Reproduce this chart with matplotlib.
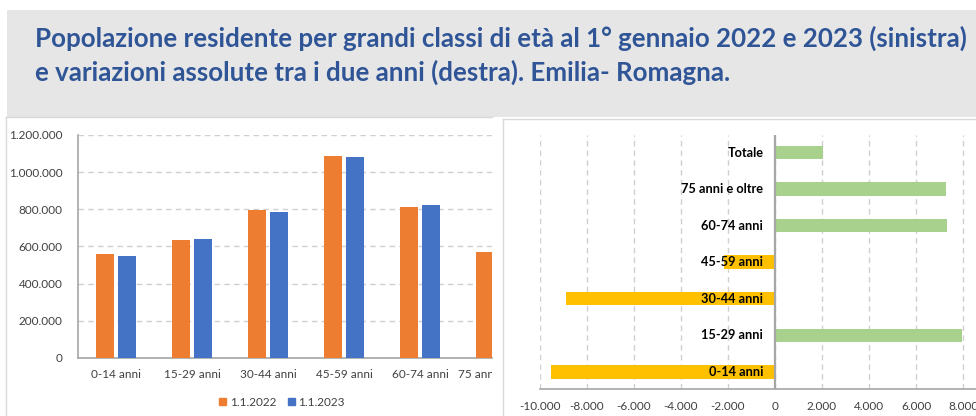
import matplotlib
matplotlib.use("Agg")
import matplotlib.pyplot as plt
from matplotlib.patches import Rectangle, Patch
from matplotlib.lines import Line2D
from matplotlib.ticker import FuncFormatter
from matplotlib.transforms import Bbox, TransformedBbox

plt.rcParams['font.family'] = ['Lato', 'DejaVu Sans']

# popolazione per classe di età
classi = ["0-14 anni", "15-29 anni", "30-44 anni", "45-59 anni", "60-74 anni", "75 anni e oltre"]
pop_2022 = [559000, 634000, 795000, 1087000, 815000, 571000]
pop_2023 = [547000, 641000, 786000, 1082000, 822000, 578000]
anni_legenda = ["1.1.2022", "1.1.2023"]

# variazioni assolute 2022-2023
var_labels = ["0-14 anni", "15-29 anni", "30-44 anni", "45-59 anni", "60-74 anni", "75 anni e oltre", "Totale"]
variazioni = [-9520, 7960, -8910, -2180, 7330, 7260, 2030]

titolo = ["Popolazione residente per grandi classi di età al 1° gennaio 2022 e 2023 (sinistra)",
          "e variazioni assolute tra i due anni (destra). Emilia- Romagna."]

ORANGE = "#ED7D31"
BLUE = "#4472C4"
GREEN = "#A9D18E"
YELLOW = "#FFC000"
GRID = "#D0D0D0"
AXIS = "#A6A6A6"
TICK = "#404040"

W, H = 976, 416
fig = plt.figure(figsize=(W / 100, H / 100), dpi=100)


def px(x0, y0, x1, y1):
    # pixel box (top-left origin) -> figure fraction rect
    return [x0 / W, 1 - y1 / H, (x1 - x0) / W, (y1 - y0) / H]


def it_fmt(v, _):
    return format(int(round(v)), ",").replace(",", ".")


# header band
fig.patches.append(Rectangle((7 / W, 1 - 117 / H), (W - 7) / W, 107 / H,
                             transform=fig.transFigure, facecolor="#E7E6E6",
                             edgecolor="none", zorder=0))
for riga, base in zip(titolo, [47, 81]):
    fig.text(35 / W, 1 - base / H, riga, ha="left", va="baseline", fontsize=18.6,
             fontweight="bold", color="#2F5597")

# panel borders
for xs, ys in [((6, 6), (117, 416)), ((6, 492), (117, 117)),
               ((503.5, 503.5), (119, 416)), ((503.5, 976), (119, 119))]:
    fig.add_artist(Line2D([x / W for x in xs], [1 - y / H for y in ys],
                          transform=fig.transFigure, color="#D9D9D9", lw=1))

# left: grouped columns
ax1 = fig.add_axes(px(78, 135, 492, 358))
xs = range(len(classi))
ax1.bar([x - 0.145 for x in xs], pop_2022, width=0.23, color=ORANGE, zorder=3)
ax1.bar([x + 0.145 for x in xs], pop_2023, width=0.23, color=BLUE, zorder=3)
ax1.set_xlim(-0.5, 4.947)
ax1.set_ylim(0, 1200000)
ax1.set_yticks(range(0, 1200001, 200000))
ax1.yaxis.set_major_formatter(FuncFormatter(it_fmt))
ax1.set_xticks([])
ax1.grid(axis="y", color=GRID, linestyle=(0, (4, 3)), lw=1, zorder=0)
for s in ["top", "right"]:
    ax1.spines[s].set_visible(False)
for s in ["left", "bottom"]:
    ax1.spines[s].set_color(AXIS)
    ax1.spines[s].set_linewidth(1.2)
ax1.tick_params(length=0, labelsize=8.5, labelcolor=TICK)
ax1.tick_params(axis="y", pad=11)

# category labels, the last one cut at the panel edge
clip = TransformedBbox(Bbox([[0, 0], [492 / W, 1]]), fig.transFigure)
for x, lab in zip(xs, classi):
    t = ax1.text(x, -0.075, lab, transform=ax1.get_xaxis_transform(),
                 ha="center", va="center", fontsize=8.5, color=TICK)
    t.set_clip_box(clip)
    t.set_clip_on(True)

fig.legend(handles=[Patch(color=ORANGE), Patch(color=BLUE)], labels=anni_legenda,
           loc="center", bbox_to_anchor=(282 / W, 1 - 402 / H), ncol=2, frameon=False,
           fontsize=8.5, handlelength=0.6, handleheight=0.6, handletextpad=0.3,
           columnspacing=1.0, labelcolor=TICK)

# right: horizontal bars of the change
ax2 = fig.add_axes(px(540, 135, 976, 389))
ys = range(len(var_labels))
colori = [GREEN if v >= 0 else YELLOW for v in variazioni]
ax2.barh(list(ys), variazioni, height=0.37, color=colori, zorder=3)
ax2.set_xlim(-10000, 8553)
ax2.set_ylim(-0.47, 6.48)
ax2.set_xticks(range(-10000, 8001, 2000))
ax2.xaxis.set_major_formatter(FuncFormatter(it_fmt))
ax2.set_yticks([])
ax2.grid(axis="x", color=GRID, linestyle=(0, (4, 3)), lw=1, zorder=0)
ax2.axvline(0, color=AXIS, lw=1.6, zorder=4)
for s in ["top", "right", "left"]:
    ax2.spines[s].set_visible(False)
ax2.spines["bottom"].set_color(AXIS)
ax2.spines["bottom"].set_linewidth(1.2)
ax2.tick_params(length=0, labelsize=8.5, labelcolor=TICK, pad=9)
for y, lab in zip(ys, var_labels):
    ax2.text(-500, y, lab, ha="right", va="center", fontsize=9.2,
             fontweight="bold", color="black", zorder=5)

fig.savefig("out.png", dpi=100)
